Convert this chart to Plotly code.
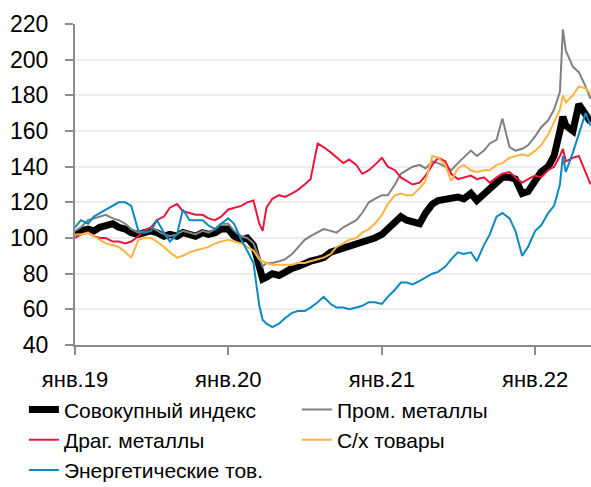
import plotly.graph_objects as go

# Semi-monthly observation dates plus two extra key dates
base_dates = [f"{y}-{m:02d}-{d:02d}" for y in (2019, 2020, 2021) for m in range(1, 13) for d in (1, 15)]
base_dates += ["2022-01-01", "2022-01-15", "2022-02-01", "2022-02-15", "2022-03-01",
               "2022-03-15", "2022-04-01", "2022-04-15", "2022-05-01", "2022-05-13"]
dates = sorted(base_dates + ["2020-03-23", "2022-03-08"])

composite = [102, 104, 105, 104, 106, 107, 108, 106, 105, 103, 102, 103,
             104, 103, 101, 102, 101, 103, 102, 101, 103, 102, 103, 105,
             105, 101, 99, 100, 96, 84,
             77,
             78, 80, 79, 81, 83, 84,
             86, 87, 88, 89, 92, 93, 94, 95, 96, 97, 98, 100,
             102, 105, 109, 112, 110, 109, 108, 114, 119, 121, 122, 123,
             123, 122, 125, 121, 125, 128, 132, 134, 134, 133, 125, 126,
             132, 137, 140, 146, 160,
             168,
             163, 160, 175, 170, 165]

ind_metals = [104, 106, 110, 111, 112, 113, 111, 110, 108, 105, 103, 104,
              106, 104, 102, 101, 102, 104, 103, 102, 104, 103, 105, 108,
              108, 104, 101, 100, 97, 88,
              84,
              86, 86, 87, 88, 91, 95,
              99, 101, 103, 105, 104, 103, 106, 108, 110, 114, 120, 122,
              124, 124, 130, 136, 138, 140, 141, 139, 143, 142, 140, 138,
              142, 145, 149, 146, 149, 153, 155, 167, 151, 149, 150, 152,
              157, 162, 166, 172, 182,
              217,
              205, 196, 193, 185, 178]

prec_metals = [100, 102, 103, 101, 100, 100, 98, 98, 97, 98, 101, 104,
               106, 110, 112, 117, 119, 115, 114, 113, 113, 111, 110, 112,
               116, 117, 118, 120, 121, 108,
               104,
               117, 122, 124, 123, 125, 127,
               130, 133, 153, 151, 148, 145, 142, 144, 141, 136, 138, 141,
               145, 140, 138, 134, 132, 130, 131, 135, 141, 145, 143, 136,
               133, 134, 135, 133, 134, 131, 134, 136, 137, 134, 131, 133,
               135, 134, 138, 140, 146,
               150,
               143, 145, 146, 137, 130]

agri = [102, 102, 103, 101, 99, 97, 96, 95, 92, 89, 99, 100,
        100, 98, 95, 92, 89, 90, 92, 93, 94, 95, 97, 98,
        99, 98, 97, 95, 93, 88,
        87,
        86, 85, 85, 85, 85, 86,
        86, 87, 88, 89, 91, 95, 97, 99, 100, 103, 105, 108,
        113, 119, 124, 125, 124, 124, 128, 132, 146, 145, 141, 132,
        139, 141, 138, 137, 138, 138, 141, 142, 145, 146, 147, 146,
        149, 152, 158, 165, 172,
        180,
        176, 180, 185, 184, 181]

energy = [106, 110, 108, 112, 114, 116, 118, 120, 120, 118, 104, 103,
          104, 110, 103, 98, 102, 116, 110, 110, 110, 107, 105, 108,
          111, 108, 99, 93, 86, 62,
          54,
          52, 50, 52, 55, 58, 59,
          59, 61, 64, 67, 63, 61, 61, 60, 61, 62, 64, 64,
          63, 67, 71, 75, 75, 74, 76, 78, 80, 81, 84, 88,
          92, 91, 92, 87, 96, 102, 112, 114, 111, 104, 90, 95,
          104, 107, 114, 118, 130,
          146,
          137, 148, 158, 170, 163]

series_names = ["Совокупный индекс", "Пром. металлы", "Драг. металлы", "С/х товары", "Энергетические тов."]
series_values = [composite, ind_metals, prec_metals, agri, energy]
series_colors = ["#000000", "#808080", "#E8173C", "#FFB340", "#0A8AC2"]
series_widths = [7, 2, 2, 2, 2]

tick_vals = ["2019-01-01", "2020-01-01", "2021-01-01", "2022-01-01"]
tick_text = ["янв.19", "янв.20", "янв.21", "янв.22"]

fig = go.Figure()
for name, vals, col, w in zip(series_names, series_values, series_colors, series_widths):
    fig.add_trace(go.Scatter(x=dates, y=vals, mode="lines", name=name,
                             line=dict(color=col, width=w)))

font_family = "Liberation Sans, Arial, sans-serif"
fig.update_layout(
    width=591, height=487,
    margin=dict(l=75, r=0, t=24, b=142, autoexpand=False),
    plot_bgcolor="white", paper_bgcolor="white",
    font=dict(family=font_family, size=22, color="#000000"),
    showlegend=True,
    legend=dict(orientation="h", x=-0.099, xanchor="left", y=-0.138, yanchor="top",
                entrywidth=228, entrywidthmode="pixels",
                font=dict(size=21, family=font_family), itemwidth=30,
                bgcolor="rgba(0,0,0,0)"),
    hovermode=False,
)
fig.update_xaxes(range=["2019-01-01", "2022-05-14"], tickvals=tick_vals, ticktext=tick_text,
                 showgrid=False, showline=True, linecolor="#8C8C8C", linewidth=2,
                 ticks="outside", ticklen=8, tickwidth=2, tickcolor="#8C8C8C",
                 tickfont=dict(size=22), ticklabelstandoff=6, zeroline=False, automargin=False)
fig.update_yaxes(range=[40, 220], dtick=20, tick0=40,
                 showgrid=True, gridcolor="#EDEDED", gridwidth=2,
                 showline=True, linecolor="#8C8C8C", linewidth=2,
                 ticks="outside", ticklen=8, tickwidth=2, tickcolor="#8C8C8C",
                 tickfont=dict(size=23), ticklabelstandoff=12, zeroline=False, automargin=False)

fig.write_html("out.html", config={"displayModeBar": False},
               post_script="document.body.style.margin='0';document.body.style.overflow='hidden';")
